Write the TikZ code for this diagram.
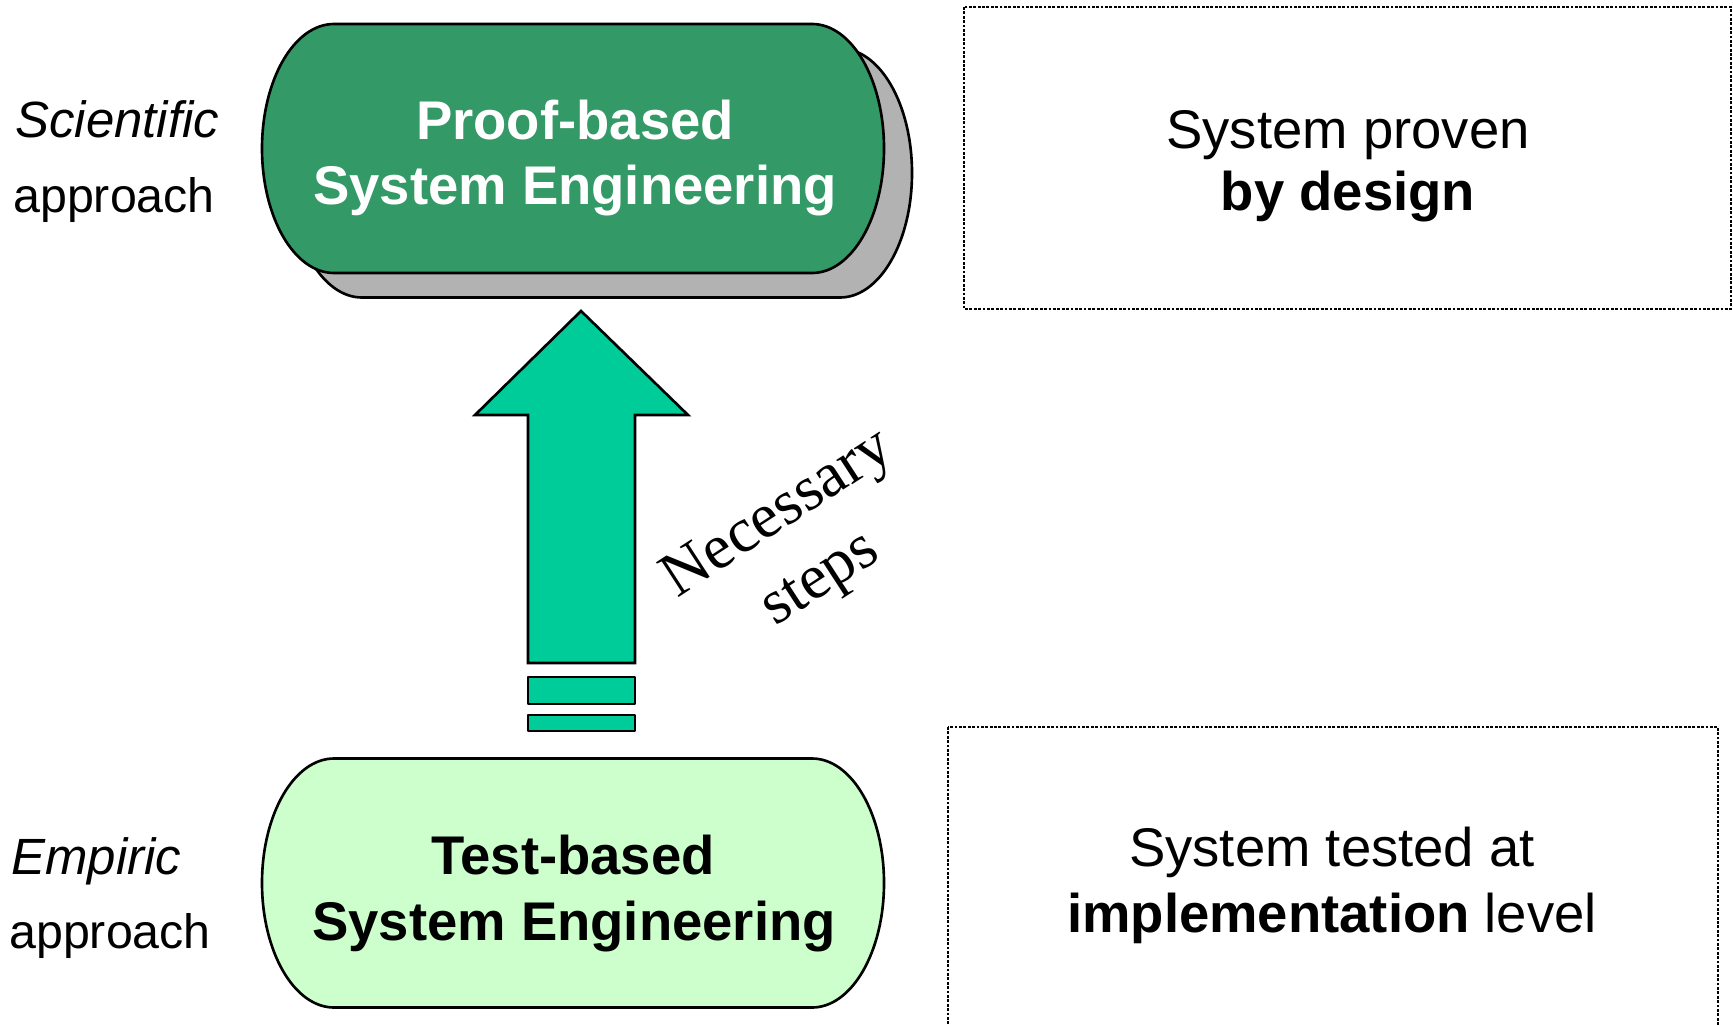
\documentclass[tikz,border=0pt]{standalone}
\usepackage{fontspec}
\setmainfont{Liberation Sans}
\newfontfamily\timesf{Liberation Serif}
\definecolor{darkgreen}{HTML}{339966}
\definecolor{lightgreen}{HTML}{CCFFCC}
\definecolor{arrowgreen}{HTML}{00CC99}
\definecolor{shadowgray}{HTML}{B2B2B2}
\begin{document}
\begin{tikzpicture}[x=0.02cm,y=-0.02cm,
  terminator/.pic={
    \path[pic actions] (-239,-124.5) -- (239,-124.5)
      .. controls (278.8,-124.5) and (311,-68.8) .. (311,0)
      .. controls (311,68.8) and (278.8,124.5) .. (239,124.5)
      -- (-239,124.5)
      .. controls (-278.8,124.5) and (-311,68.8) .. (-311,0)
      .. controls (-311,-68.8) and (-278.8,-124.5) .. (-239,-124.5) -- cycle;
  },
  outl/.style={draw=black, line width=1.5pt, line join=round},
  boxtxt/.style={font=\fontsize{31}{37}\selectfont, anchor=base, inner sep=0pt},
  termtxt/.style={font=\fontsize{31}{37}\selectfont\bfseries, anchor=base, inner sep=0pt},
  sidetxt/.style={font=\fontsize{27.5}{34}\selectfont, anchor=base west, inner sep=0pt},
  sideit/.style={font=\fontsize{29}{34}\selectfont\itshape, anchor=base west, inner sep=0pt},
  dotbox/.style={draw=black, line width=1.2pt, dash pattern=on 1.6pt off 0.9pt}
]
\useasboundingbox (0,0) rectangle (1733,1024);

% top terminator with shadow
\pic[fill=shadowgray, outl] at (601,173) {terminator};
\pic[fill=darkgreen, outl] at (573,148.5) {terminator};
% bottom terminator
\pic[fill=lightgreen, outl] at (573,883) {terminator};

% arrow
\draw[fill=arrowgreen, outl, line join=miter]
  (581,311) -- (688,415) -- (635,415) -- (635,663) -- (528,663) -- (528,415) -- (475,415) -- cycle;
\draw[fill=arrowgreen, outl] (528,677) rectangle (635,704);
\draw[fill=arrowgreen, outl] (528,715) rectangle (635,731);

% dotted boxes
\draw[dotbox] (964,7) rectangle (1731,309);
\draw[dotbox] (948,727) rectangle (1718,1040);

% texts
\node[termtxt, text=white] (pb1) at (575,139) {Proof-based};
\node[termtxt, text=white] (pb2) at (575,204) {System Engineering};
\node[termtxt] (tb1) at (573,874) {Test-based};
\node[termtxt] (tb2) at (574,940) {System Engineering};

\node[sideit] (sci) at (15,137) {Scientific};
\node[sidetxt] (app1) at (13,212) {approach};
\node[sideit] (emp) at (11,874) {Empiric};
\node[sidetxt] (app2) at (9,948) {approach};

\node[boxtxt] (sp1) at (1348,148) {System proven};
\node[boxtxt, font=\fontsize{31}{37}\selectfont\bfseries] (sp2) at (1348,210) {by design};
\node[boxtxt] (st1) at (1332,866) {System tested at};
\node[boxtxt] (st2) at (1332,932) {\textbf{implementation} level};

\node[rotate=33, align=center, inner sep=0pt,
      font=\timesf\fontsize{36}{44}\selectfont] (steps) at (800,548) {Necessary\\steps};
\end{tikzpicture}
\end{document}
